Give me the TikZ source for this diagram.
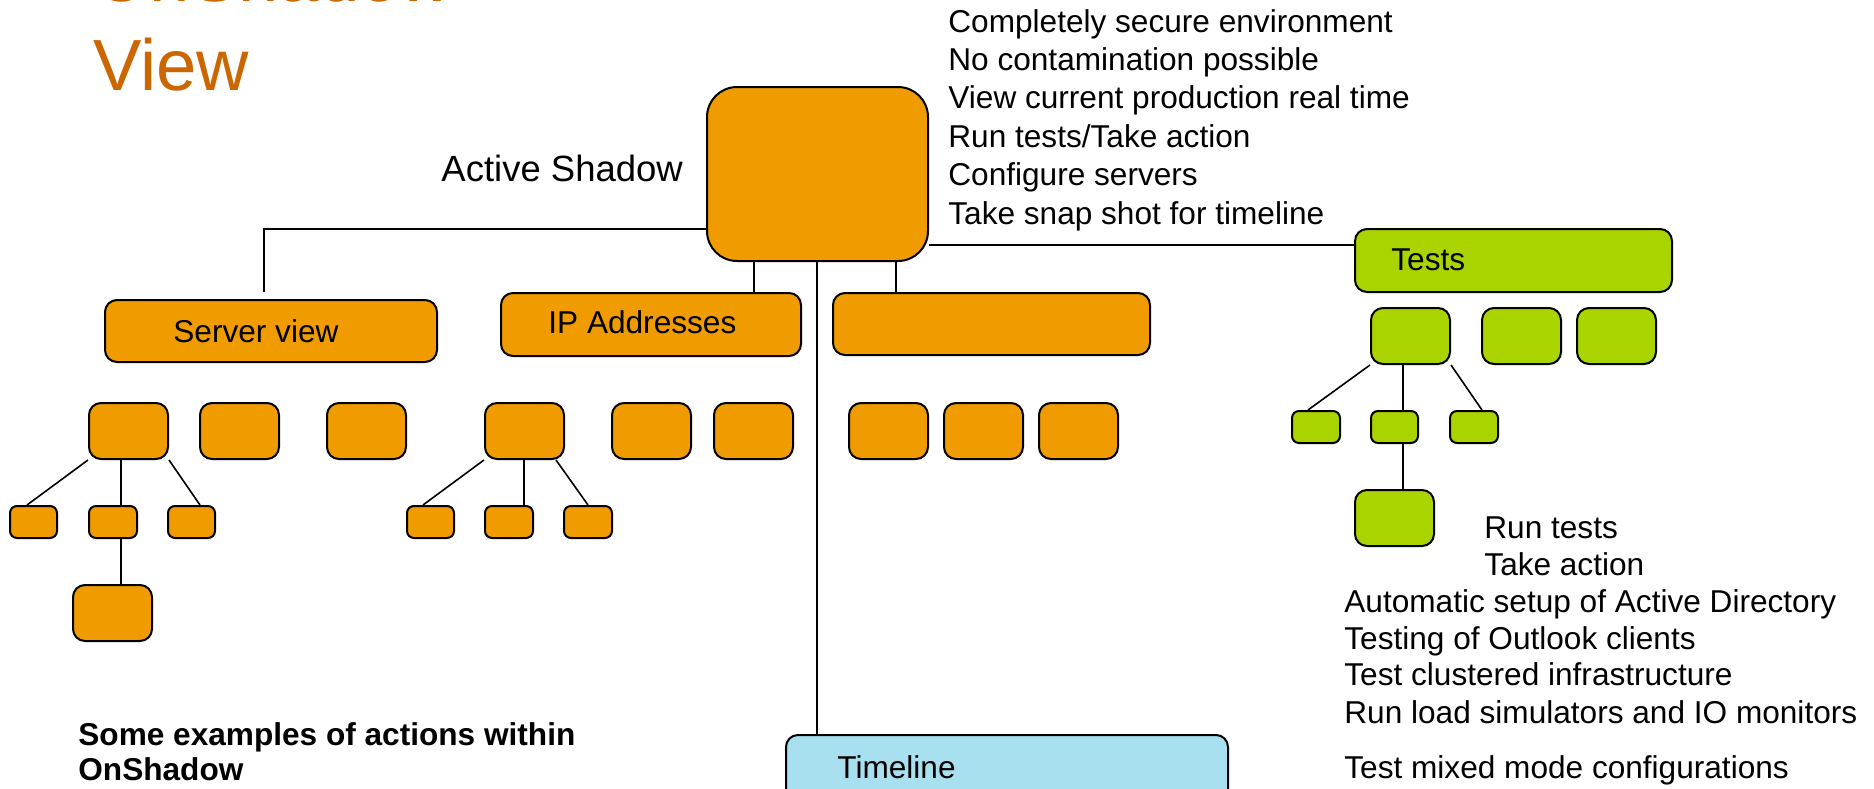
\documentclass[tikz,border=0pt]{standalone}
\usepackage{fontspec}
\setmainfont{Liberation Sans}
\usetikzlibrary{fit}
\definecolor{boxorange}{RGB}{240,156,0}
\definecolor{boxgreen}{RGB}{170,212,0}
\definecolor{boxblue}{RGB}{168,224,240}
\definecolor{titleorange}{RGB}{204,102,0}
\begin{document}
\begin{tikzpicture}[x=0.5pt,y=-0.5pt,
  bx/.style={draw=black, line width=1pt, inner sep=0pt, rounded corners=#1},
  bx/.default=6pt,
  ob/.style={bx=#1, fill=boxorange}, ob/.default=6pt,
  gb/.style={bx=#1, fill=boxgreen}, gb/.default=6pt,
  lb/.style={bx=#1, fill=boxblue}, lb/.default=6pt,
  conn/.style={draw=black, line width=0.8pt},
  txt/.style={anchor=base west, inner sep=0pt, font=\fontsize{15.8pt}{18pt}\selectfont},
  bigtxt/.style={anchor=base west, inner sep=0pt, font=\fontsize{18.25pt}{21pt}\selectfont},
  boldtxt/.style={txt, font=\fontsize{15.8pt}{18pt}\selectfont\bfseries},
  ttl/.style={anchor=base west, inner sep=0pt, text=titleorange, font=\fontsize{36.25pt}{44pt}\selectfont}]
\useasboundingbox (0,0) rectangle (1874,788);
\clip (0,0) rectangle (1874,788);

% title
\node[ttl] (title1) at (93,1) {OnShadow};
\node[ttl] (title2) at (93,90) {View};

% main box
\node[ob=15pt, fit={(707,87)(928,261)}] (main) {};
\node[bigtxt] (mainlbl) at (441,181) {Active Shadow};

% right-top text
\foreach \t [count=\i] in {Completely secure environment, No contamination possible, View current production real time, Run tests/Take action, Configure servers, Take snap shot for timeline}
  \node[txt] (r\i) at (948,{32+38.4*(\i-1)}) {\t};

% second level
\node[ob, fit={(105,300)(437,362)}] (sv) {};
\node[txt] (svl) at (173,342) {Server view};
\node[ob, fit={(501,293)(801,356)}] (ip) {};
\node[txt] (ipl) at (548,333) {IP Addresses};
\node[ob, fit={(833,293)(1150,355)}] (blank) {};
\node[gb, fit={(1355,229)(1672,292)}] (tests) {};
\node[txt] (testsl) at (1391,270) {Tests};
\node[lb, fit={(786,735)(1228,840)}] (tl) {};
\node[txt] (tll) at (837,778) {Timeline};

% third level orange
\node[ob, fit={(89,403)(168,459)}] (A1) {};
\node[ob, fit={(200,403)(279,459)}] (A2) {};
\node[ob, fit={(327,403)(406,459)}] (A3) {};
\node[ob, fit={(485,403)(564,459)}] (B1) {};
\node[ob, fit={(612,403)(691,459)}] (B2) {};
\node[ob, fit={(714,403)(793,459)}] (B3) {};
\node[ob, fit={(849,403)(928,459)}] (C1) {};
\node[ob, fit={(944,403)(1023,459)}] (C2) {};
\node[ob, fit={(1039,403)(1118,459)}] (C3) {};

% fourth level orange
\node[ob=3.5pt, fit={(10,506)(57,538)}] (S1) {};
\node[ob=3.5pt, fit={(89,506)(137,538)}] (S2) {};
\node[ob=3.5pt, fit={(168,506)(215,538)}] (S3) {};
\node[ob, fit={(73,585)(152,641)}] (S4) {};
\node[ob=3.5pt, fit={(407,506)(454,538)}] (T1) {};
\node[ob=3.5pt, fit={(485,506)(533,538)}] (T2) {};
\node[ob=3.5pt, fit={(564,506)(612,538)}] (T3) {};

% green subtree
\node[gb, fit={(1371,308)(1450,364)}] (G1) {};
\node[gb, fit={(1482,308)(1561,364)}] (G2) {};
\node[gb, fit={(1577,308)(1656,364)}] (G3) {};
\node[gb=3.5pt, fit={(1292,411)(1340,443)}] (H1) {};
\node[gb=3.5pt, fit={(1371,411)(1418,443)}] (H2) {};
\node[gb=3.5pt, fit={(1450,411)(1498,443)}] (H3) {};
\node[gb, fit={(1355,490)(1434,546)}] (H4) {};

% connectors from main
\coordinate (j1) at (264,229);
\draw[conn, shorten >=3.75pt] (j1 -| main.west) -- (j1) -- (j1 |- sv.north);
\draw[conn] (main.east |- 0,245) -- (tests.west |- 0,245);
\draw[conn] (754,0 |- main.south) -- (754,0 |- ip.north);
\draw[conn] (896,0 |- main.south) -- (896,0 |- blank.north);
\draw[conn] (817,0 |- main.south) -- (817,0 |- tl.north);

% server subtree
\draw[conn] (A1.south west) -- (27,0 |- S1.north);
\draw[conn] (121,0 |- A1.south) -- (121,0 |- S2.north);
\draw[conn] (A1.south east) -- (200,0 |- S3.north);
\draw[conn] (121,0 |- S2.south) -- (121,0 |- S4.north);

% IP subtree
\draw[conn] (B1.south west) -- (423,0 |- T1.north);
\draw[conn] (524,0 |- B1.south) -- (524,0 |- T2.north);
\draw[conn] (556,0 |- B1.south) -- (588,0 |- T3.north);

% tests subtree
\draw[conn] (G1.south west) -- (1308,0 |- H1.north);
\draw[conn] (1403,0 |- G1.south) -- (1403,0 |- H2.north);
\draw[conn] (G1.south east) -- (1482,0 |- H3.north);
\draw[conn] (1403,0 |- H2.south) -- (1403,0 |- H4.north);

% bottom-right text
\node[txt] (b1) at (1484,538) {Run tests};
\node[txt] (b2) at (1484,575) {Take action};
\node[txt] (b3) at (1344,612) {Automatic setup of Active Directory};
\node[txt] (b4) at (1344,649) {Testing of Outlook clients};
\node[txt] (b5) at (1344,685) {Test clustered infrastructure};
\node[txt] (b6) at (1344,723) {Run load simulators and IO monitors};
\node[txt] (b7) at (1344,778) {Test mixed mode configurations};

% bottom-left bold text
\node[boldtxt] (e1) at (78,745) {Some examples of actions within};
\node[boldtxt] (e2) at (78,780) {OnShadow};
\end{tikzpicture}
\end{document}
